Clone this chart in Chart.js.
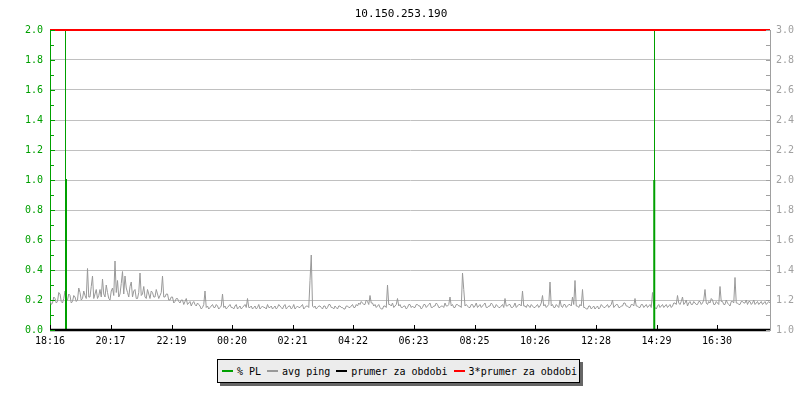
<!DOCTYPE html>
<html>
<head>
<meta charset="utf-8">
<script src="https://cdn.jsdelivr.net/npm/chart.js@4/dist/chart.umd.min.js"></script>
<style>
  html, body { margin: 0; padding: 0; background: #ffffff; }
  #wrap { position: relative; width: 800px; height: 400px; overflow: hidden; background: #fff; }
  #c { position: absolute; left: 0; top: 0; }
  #title { position: absolute; left: 0; top: 7px; width: 802px; text-align: center;
           font: 11px "DejaVu Sans Mono", monospace; line-height: 13px; color: #000; }
  #legendShadow { position: absolute; left: 220px; top: 362px; width: 363px; height: 24px; background: #666; }
  #legend { position: absolute; left: 217px; top: 359px; width: 357px; height: 22px;
            background: #ececec; border: 1px solid #000; display: flex; align-items: center;
            padding-left: 4px; box-sizing: content-box;
            font: 10px "DejaVu Sans Mono", monospace; color: #000; white-space: pre; }
  .item { display: flex; align-items: center; margin-right: 6px; }
  .sw { width: 11px; height: 2px; margin-right: 4px; }
</style>
</head>
<body>
<div id="wrap">
  <canvas id="c" width="800" height="400"></canvas>
  <div id="title"></div>
  <div id="legendShadow"></div>
  <div id="legend"></div>
</div>
<script>
// ---- data ----
const chartTitle = "10.150.253.190";
const tickLabels = ["18:16","20:17","22:19","00:20","02:21","04:22","06:23","08:25","10:26","12:28","14:29","16:30"];
const periodMinutes = 1440;          // 24 h window starting at first tick label
const pingStepMin = 2.5;             // sampling step of avg ping (minutes)
const pingValues = [
 1.20,1.17,1.18,1.22,1.21,1.18,1.19,1.25,1.24,1.19,1.18,1.21,1.26,1.19,1.20,1.24,1.23,1.18,1.19,1.23,
 1.22,1.19,1.20,1.28,1.25,1.20,1.21,1.26,1.23,1.21,1.41,1.22,1.22,1.29,1.36,1.21,1.24,1.27,1.21,1.23,
 1.27,1.22,1.34,1.24,1.22,1.30,1.25,1.21,1.20,1.26,1.28,1.23,1.46,1.25,1.33,1.22,1.24,1.31,1.39,1.24,
 1.36,1.28,1.25,1.22,1.29,1.32,1.22,1.26,1.27,1.21,1.21,1.25,1.38,1.23,1.24,1.29,1.22,1.21,1.27,1.24,
 1.21,1.26,1.25,1.22,1.22,1.27,1.24,1.21,1.23,1.25,1.36,1.22,1.22,1.24,1.24,1.20,1.20,1.22,1.22,1.18,
 1.19,1.21,1.21,1.19,1.18,1.20,1.20,1.17,1.19,1.21,1.17,1.18,1.19,1.16,1.18,1.19,1.17,1.16,1.18,1.17,
 1.16,1.14,1.15,1.17,1.26,1.15,1.16,1.14,1.15,1.16,1.17,1.15,1.15,1.17,1.16,1.14,1.15,1.16,1.24,1.15,
 1.16,1.14,1.15,1.16,1.17,1.15,1.15,1.14,1.16,1.17,1.14,1.15,1.16,1.14,1.15,1.16,1.17,1.15,1.21,1.15,
 1.15,1.16,1.14,1.15,1.16,1.14,1.15,1.17,1.14,1.15,1.16,1.15,1.15,1.14,1.17,1.15,1.15,1.16,1.14,1.15,
 1.16,1.14,1.15,1.17,1.16,1.15,1.14,1.16,1.17,1.14,1.15,1.16,1.16,1.14,1.15,1.17,1.14,1.15,1.16,1.15,
 1.15,1.16,1.17,1.14,1.15,1.16,1.16,1.15,1.33,1.50,1.16,1.15,1.16,1.14,1.15,1.16,1.16,1.15,1.14,1.16,
 1.16,1.14,1.15,1.17,1.17,1.15,1.15,1.14,1.16,1.15,1.14,1.16,1.16,1.15,1.15,1.14,1.14,1.16,1.16,1.15,
 1.15,1.16,1.17,1.15,1.15,1.17,1.16,1.18,1.17,1.19,1.18,1.17,1.17,1.20,1.19,1.17,1.23,1.18,1.18,1.16,
 1.17,1.15,1.16,1.17,1.15,1.14,1.14,1.16,1.16,1.15,1.30,1.17,1.17,1.16,1.18,1.15,1.16,1.17,1.21,1.16,
 1.17,1.15,1.15,1.16,1.16,1.14,1.15,1.17,1.17,1.15,1.16,1.15,1.15,1.17,1.17,1.16,1.16,1.14,1.15,1.17,
 1.17,1.15,1.16,1.17,1.18,1.15,1.15,1.16,1.16,1.18,1.17,1.15,1.15,1.16,1.16,1.15,1.18,1.16,1.16,1.17,
 1.22,1.16,1.17,1.15,1.15,1.17,1.17,1.16,1.16,1.15,1.38,1.27,1.16,1.17,1.16,1.15,1.15,1.17,1.17,1.15,
 1.16,1.18,1.15,1.16,1.17,1.15,1.16,1.17,1.18,1.15,1.15,1.16,1.16,1.18,1.17,1.15,1.15,1.17,1.16,1.15,
 1.15,1.16,1.17,1.15,1.21,1.16,1.16,1.17,1.17,1.15,1.15,1.16,1.18,1.15,1.16,1.17,1.17,1.16,1.26,1.16,
 1.16,1.15,1.17,1.16,1.15,1.17,1.16,1.15,1.15,1.16,1.17,1.15,1.16,1.18,1.23,1.16,1.17,1.15,1.16,1.17,
 1.32,1.16,1.17,1.15,1.15,1.17,1.16,1.15,1.20,1.16,1.15,1.17,1.17,1.15,1.16,1.17,1.17,1.16,1.22,1.17,
 1.33,1.16,1.16,1.15,1.17,1.16,1.27,1.15,1.15,1.14,1.14,1.16,1.16,1.14,1.15,1.16,1.14,1.15,1.16,1.14,
 1.15,1.17,1.16,1.15,1.15,1.16,1.17,1.15,1.16,1.17,1.20,1.15,1.16,1.17,1.17,1.15,1.15,1.16,1.16,1.18,
 1.18,1.16,1.16,1.15,1.15,1.17,1.17,1.16,1.21,1.16,1.16,1.15,1.15,1.17,1.17,1.15,1.16,1.17,1.15,1.16,
 1.17,1.15,1.25,1.16,1.15,1.14,1.16,1.17,1.15,1.16,1.17,1.15,1.16,1.17,1.15,1.16,1.17,1.15,1.16,1.18,
 1.18,1.17,1.23,1.18,1.17,1.19,1.22,1.17,1.18,1.20,1.16,1.18,1.19,1.17,1.17,1.19,1.18,1.17,1.17,1.19,
 1.19,1.17,1.18,1.20,1.27,1.18,1.17,1.19,1.18,1.21,1.20,1.17,1.17,1.19,1.18,1.17,1.29,1.19,1.19,1.17,
 1.17,1.20,1.18,1.17,1.16,1.19,1.19,1.18,1.35,1.18,1.18,1.17,1.17,1.19,1.19,1.18,1.18,1.20,1.17,1.19,
 1.19,1.17,1.18,1.20,1.17,1.18,1.19,1.17,1.18,1.19,1.17,1.18,1.19,1.17,1.18,1.19,1.18
];
// packet loss samples (minute offset, % loss); 100 = full loss, off scale
const plMinutes = [0, 31, 31,  31, 32, 32, 1208, 1208, 1209, 1209, 1209, 1440];
const plValues  = [0,  0, 100,  1,  1,  0,    0,    1,    1,  100,    0,    0];
const prumerValue = 1.0;             // average for the period
const leftAxis  = { min: 0, max: 2, step: 0.2 };
const rightAxis = { min: 1, max: 3, step: 0.2 };

// ---- derived ----
function toMinutes(lbl) {
  const [h, m] = lbl.split(":").map(Number);
  return h * 60 + m;
}
const startMin = toMinutes(tickLabels[0]);
const tickMinutes = tickLabels.map(l => {
  let d = toMinutes(l) - startMin;
  if (d < 0) d += 1440;
  return d;
});

const GREEN = "#00a000", GRAY = "#999999", AXGRAY = "#a0a0a0", RED = "#ff0000";

const pingData = pingValues.map((v, i) => ({ x: i * pingStepMin, y: v }));
const plData = plMinutes.map((m, i) => ({ x: m, y: plValues[i] }));
const prumerData = [{ x: 0, y: prumerValue }, { x: periodMinutes, y: prumerValue }];
const triData = prumerData.map(p => ({ x: p.x, y: 3 * p.y }));

document.getElementById("title").textContent = chartTitle;
const legendItems = [
  { label: "% PL", color: GREEN },
  { label: "avg ping", color: GRAY },
  { label: "prumer za obdobi", color: "#000000" },
  { label: "3*prumer za obdobi", color: RED }
];
const lg = document.getElementById("legend");
legendItems.forEach(it => {
  const d = document.createElement("div"); d.className = "item";
  const s = document.createElement("span"); s.className = "sw"; s.style.background = it.color;
  const t = document.createElement("span"); t.textContent = it.label;
  d.appendChild(s); d.appendChild(t); lg.appendChild(d);
});

const FONT = { family: "'DejaVu Sans Mono', monospace", size: 10 };

const tickMarks = {
  id: "tickMarks",
  afterDatasetsDraw(chart) {
    const { ctx, chartArea: a, scales } = chart;
    const yL = scales.yL, yR = scales.yR, x = scales.x;
    ctx.save();
    ctx.lineWidth = 1;
    ctx.strokeStyle = GREEN;
    for (let k = 0; k <= 20; k++) {
      const y = Math.round(yL.getPixelForValue(leftAxis.min + k * 0.1)) + 0.5;
      const len = k % 2 === 0 ? 5 : 4;
      ctx.beginPath(); ctx.moveTo(a.left, y); ctx.lineTo(a.left + len, y); ctx.stroke();
    }
    ctx.strokeStyle = AXGRAY;
    for (let k = 0; k <= 20; k++) {
      const y = Math.round(yR.getPixelForValue(rightAxis.min + k * 0.1)) + 0.5;
      ctx.beginPath(); ctx.moveTo(a.right - 4, y); ctx.lineTo(a.right, y); ctx.stroke();
    }
    ctx.strokeStyle = "#000";
    tickMinutes.forEach(m => {
      const px = Math.round(x.getPixelForValue(m)) + 0.5;
      ctx.beginPath(); ctx.moveTo(px, a.bottom); ctx.lineTo(px, a.bottom - 5); ctx.stroke();
    });
    ctx.restore();
  }
};

new Chart(document.getElementById("c"), {
  type: "line",
  data: {
    datasets: [
      { label: "3*prumer za obdobi", data: triData, yAxisID: "yR", borderColor: RED, borderWidth: 2, pointRadius: 0, order: 0, clip: 2 },
      { label: "prumer za obdobi", data: prumerData, yAxisID: "yR", borderColor: "#000", borderWidth: 2.5, pointRadius: 0, order: 1, clip: 3 },
      { label: "% PL", data: plData, yAxisID: "yL", borderColor: GREEN, borderWidth: 2, pointRadius: 0, order: 2,
        segment: { borderWidth: c => (c.p0.parsed.y > 1 || c.p1.parsed.y > 1) ? 1 : 2 } },
      { label: "avg ping", data: pingData, yAxisID: "yR", borderColor: GRAY, borderWidth: 1, pointRadius: 0, order: 3 }
    ]
  },
  options: {
    responsive: false,
    animation: false,
    devicePixelRatio: 1,
    layout: { padding: { top: 30, bottom: 50, left: 0, right: 0 } },
    plugins: { legend: { display: false }, tooltip: { enabled: false }, title: { display: false } },
    scales: {
      x: {
        type: "linear", min: 0, max: periodMinutes, position: "bottom",
        afterBuildTicks: s => { s.ticks = tickMinutes.map(v => ({ value: v })); },
        afterFit: s => { s.height = 20; },
        ticks: { autoSkip: false, maxRotation: 0, padding: 5, color: "#000", font: FONT,
                 callback: (v) => { const i = tickMinutes.indexOf(v); return i >= 0 ? tickLabels[i] : ""; } },
        grid: { display: false, drawTicks: false },
        border: { display: false }
      },
      yL: {
        type: "linear", position: "left", min: leftAxis.min, max: leftAxis.max,
        afterFit: s => { s.width = 50; },
        ticks: { stepSize: leftAxis.step, padding: 7, color: GREEN, font: FONT, callback: v => Number(v).toFixed(1) },
        grid: { color: "#c0c0c0", lineWidth: 1, drawTicks: false },
        border: { display: true, color: GREEN, width: 1 }
      },
      yR: {
        type: "linear", position: "right", min: rightAxis.min, max: rightAxis.max,
        afterFit: s => { s.width = 30; },
        ticks: { stepSize: rightAxis.step, padding: 6, color: AXGRAY, font: FONT, callback: v => Number(v).toFixed(1) },
        grid: { display: false, drawTicks: false },
        border: { display: true, color: AXGRAY, width: 1 }
      }
    }
  },
  plugins: [tickMarks]
});
</script>
</body>
</html>
